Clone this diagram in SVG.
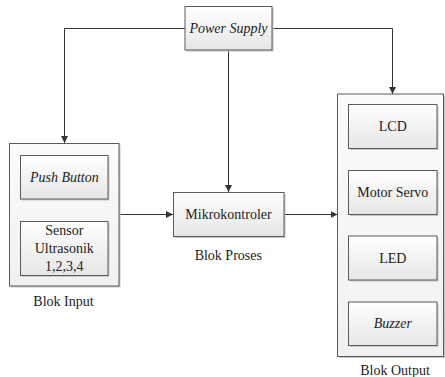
<svg xmlns="http://www.w3.org/2000/svg" width="445" height="377" viewBox="0 0 445 377">
<defs>
<linearGradient id="g" x1="0" y1="0" x2="0" y2="1">
<stop offset="0" stop-color="#ffffff"/>
<stop offset="1" stop-color="#e6e6e6"/>
</linearGradient>
<linearGradient id="gc" x1="0" y1="0" x2="0" y2="1">
<stop offset="0" stop-color="#fbfbfb"/>
<stop offset="1" stop-color="#f1f1f1"/>
</linearGradient>
<marker id="arr" markerWidth="8" markerHeight="8" refX="7" refY="3.5" orient="auto" markerUnits="userSpaceOnUse">
<path d="M0,0 L7,3.5 L0,7 Z" fill="#333"/>
</marker>
</defs>
<style>
.box{fill:url(#g);stroke:#5a5a5a;stroke-width:1}
.cont{fill:url(#gc);stroke:#5a5a5a;stroke-width:1}
.sh{fill:#c8c8c8}
text{font-family:'Liberation Serif','DejaVu Serif',serif;font-size:14px;fill:#222;text-anchor:middle}
.i{font-style:italic}
.ln{fill:none;stroke:#333;stroke-width:1}
</style>
<rect width="445" height="377" fill="#fff"/>
<g id="connectors">
<polyline class="ln" points="185,28.5 64.5,28.5 64.5,143" marker-end="url(#arr)"/>
<polyline class="ln" points="272,28.5 392.5,28.5 392.5,94" marker-end="url(#arr)"/>
<line class="ln" x1="228.5" y1="50" x2="228.5" y2="192" marker-end="url(#arr)"/>
<line class="ln" x1="119" y1="214.5" x2="173" y2="214.5" marker-end="url(#arr)"/>
<line class="ln" x1="284" y1="214.5" x2="337.5" y2="214.5" marker-end="url(#arr)"/>
</g>
<g id="power-supply">
<rect class="sh" x="186.5" y="8" width="87" height="43.5"/>
<rect class="box" x="185" y="6.5" width="87" height="43.5"/>
<text class="i" x="228.5" y="33" font-family="Liberation Serif, serif">Power Supply</text>
</g>
<g id="blok-input">
<rect class="sh" x="10.5" y="145" width="110" height="142.5"/>
<rect class="cont" x="9.5" y="143.5" width="109.5" height="142.5"/>
<text x="63.5" y="306" font-family="Liberation Serif, serif">Blok Input</text>
</g>
<g id="push-button">
<rect class="sh" x="22" y="157" width="87.5" height="43.5"/>
<rect class="box" x="20.5" y="155.5" width="87.5" height="43.5"/>
<text class="i" x="64.3" y="182" font-family="Liberation Serif, serif">Push Button</text>
</g>
<g id="sensor-ultrasonik">
<rect class="sh" x="22" y="223" width="87.5" height="54"/>
<rect class="box" x="20.5" y="221.5" width="87.5" height="54"/>
<text x="64.3" y="235" font-family="Liberation Serif, serif">Sensor</text>
<text x="64.3" y="253" font-family="Liberation Serif, serif">Ultrasonik</text>
<text x="64.3" y="271" font-family="Liberation Serif, serif">1,2,3,4</text>
</g>
<g id="mikrokontroler">
<rect class="sh" x="174.5" y="194" width="111" height="44"/>
<rect class="box" x="173.5" y="192.5" width="110.5" height="44"/>
<text x="228.5" y="219" font-family="Liberation Serif, serif">Mikrokontroler</text>
<text x="228.3" y="259.5" font-family="Liberation Serif, serif">Blok Proses</text>
</g>
<g id="blok-output">
<rect class="sh" x="339" y="95.5" width="106" height="262.5"/>
<rect class="cont" x="337.5" y="94" width="106" height="262.5"/>
<text x="395" y="375" font-family="Liberation Serif, serif">Blok Output</text>
</g>
<g id="lcd">
<rect class="sh" x="350" y="106" width="88.5" height="44"/>
<rect class="box" x="348.5" y="104.5" width="88.5" height="44"/>
<text x="392.8" y="131" font-family="Liberation Serif, serif">LCD</text>
</g>
<g id="motor-servo">
<rect class="sh" x="350" y="172" width="88.5" height="44"/>
<rect class="box" x="348.5" y="170.5" width="88.5" height="44"/>
<text x="392.8" y="197" font-family="Liberation Serif, serif">Motor Servo</text>
</g>
<g id="led">
<rect class="sh" x="350" y="237.5" width="88.5" height="44"/>
<rect class="box" x="348.5" y="236" width="88.5" height="44"/>
<text x="392.8" y="263" font-family="Liberation Serif, serif">LED</text>
</g>
<g id="buzzer">
<rect class="sh" x="350" y="303.5" width="88.5" height="43.5"/>
<rect class="box" x="348.5" y="302" width="88.5" height="43.5"/>
<text class="i" x="392.8" y="328" font-family="Liberation Serif, serif">Buzzer</text>
</g>
</svg>
